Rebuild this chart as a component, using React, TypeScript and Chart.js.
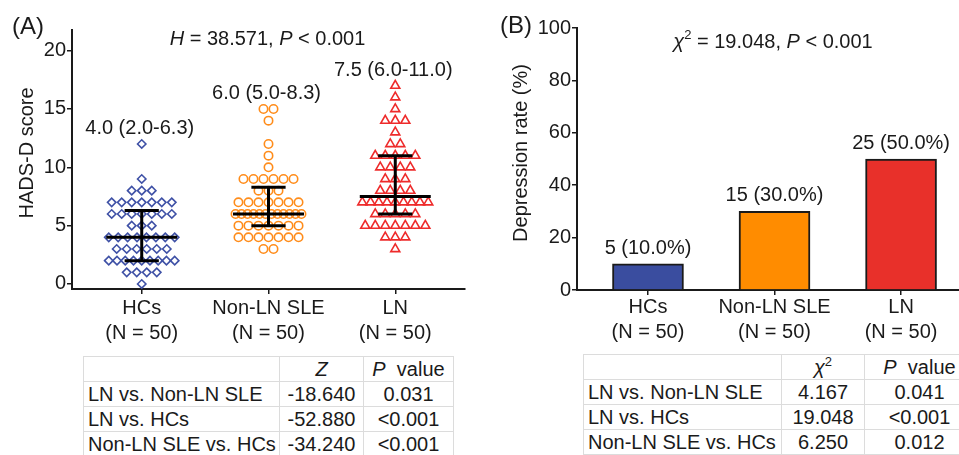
import React, { useEffect, useRef } from "react";
import { Chart, registerables } from "chart.js";

Chart.register(...registerables);

const FONT = "'Liberation Sans', Arial, Helvetica, sans-serif";
const INK = "#1a1a1a";

// ---------- data ----------
const groups = ["HCs", "Non-LN SLE", "LN"];
const groupN = ["(N = 50)", "(N = 50)", "(N = 50)"];

const hcScores = [
  0, 1, 1, 1, 1, 2, 2, 2, 2, 2, 2, 2, 2, 2, 3, 3, 3, 3, 3, 3, 4, 4, 4, 4, 4, 4, 4, 4,
  5, 5, 5, 6, 6, 6, 6, 6, 6, 6, 7, 7, 7, 7, 7, 7, 7, 8, 8, 8, 9, 12,
];
const nonLnScores = [
  3, 3, 4, 4, 4, 4, 4, 4, 4, 5, 5, 5, 5, 5, 5, 5, 6, 6, 6, 6, 6, 6, 6, 6, 6, 6, 6, 6,
  7, 7, 7, 7, 7, 7, 7, 8, 8, 8, 9, 9, 9, 9, 9, 9, 10, 11, 12, 14, 15, 15,
];
const lnScores = [
  3, 4, 4, 4, 5, 5, 5, 5, 5, 5, 5, 6, 6, 6, 6, 6, 7, 7, 7, 7, 7, 7, 7, 7, 7, 8, 8, 8,
  8, 9, 9, 9, 10, 10, 10, 10, 11, 11, 11, 11, 11, 12, 12, 13, 14, 14, 14, 15, 16, 17,
];
const medians = [4.0, 6.0, 7.5];
const q1s = [2.0, 5.0, 6.0];
const q3s = [6.3, 8.3, 11.0];
const yTicksA = [0, 5, 10, 15, 20];

const depCounts = [5, 15, 25];
const depRates = [10, 30, 50];
const yTicksB = [0, 20, 40, 60, 80, 100];

const comparisons = ["LN vs. Non-LN SLE", "LN vs. HCs", "Non-LN SLE vs. HCs"];
const zValues = ["-18.640", "-52.880", "-34.240"];
const pValuesA = ["0.031", "<0.001", "<0.001"];
const chiValues = ["4.167", "19.048", "6.250"];
const pValuesB = ["0.041", "<0.001", "0.012"];

// ---------- styles ----------
const pointColors = ["#3f51a6", "#ff8c1a", "#ee2b2b"];
const pointStyles = ["rectRot", "circle", "triangle"];
const pointRadii = [4.2, 4.2, 5.2];
const barColors = ["#3a4d9f", "#ff8c00", "#e8302a"];

const STEP = 0.079;
const MAXSPAN = 0.52;
const MED_HALF = 0.28;
const CAP_HALF = 0.135;

const scoresByGroup = [hcScores, nonLnScores, lnScores];

function swarm(scores: number[], center: number) {
  const rows = new Map<number, number>();
  scores.forEach((v) => rows.set(v, (rows.get(v) || 0) + 1));
  const out: { x: number; y: number }[] = [];
  rows.forEach((k, v) => {
    const span = Math.min((k - 1) * STEP, MAXSPAN);
    const step = k > 1 ? span / (k - 1) : 0;
    for (let i = 0; i < k; i++) out.push({ x: center - span / 2 + i * step, y: v });
  });
  return out;
}

type Run = { t: string; i?: boolean; sup?: boolean };

function drawRuns(ctx: CanvasRenderingContext2D, runs: Run[], cx: number, y: number, size: number) {
  const fontFor = (r: Run) =>
    `${r.i ? "italic " : ""}${r.sup ? Math.round(size * 0.65) : size}px ${FONT}`;
  let total = 0;
  runs.forEach((r) => {
    ctx.font = fontFor(r);
    total += ctx.measureText(r.t).width;
  });
  let x = cx - total / 2;
  ctx.textAlign = "left";
  ctx.textBaseline = "alphabetic";
  runs.forEach((r) => {
    ctx.font = fontFor(r);
    ctx.fillText(r.t, x, r.sup ? y - size * 0.45 : y);
    x += ctx.measureText(r.t).width;
  });
}

const axisCommon = (fontSize: number) => ({
  ticks: {
    color: INK,
    padding: 1,
    autoSkip: false,
    maxRotation: 0,
    font: { family: FONT, size: fontSize, lineHeight: 1.25 },
  },
  grid: { drawOnChartArea: false, drawTicks: true, tickLength: 5, color: INK, lineWidth: 1.5, offset: false },
  border: { display: true, color: INK, width: 2 },
});

const panelAPlugin = {
  id: "panelA",
  afterDraw(chart: any) {
    const ctx = chart.ctx as CanvasRenderingContext2D;
    const xs = chart.scales.x;
    const ys = chart.scales.y;
    ctx.save();
    ctx.fillStyle = INK;
    ctx.font = `24px ${FONT}`;
    ctx.textAlign = "left";
    ctx.textBaseline = "alphabetic";
    ctx.fillText("(A)", 12, 34);
    drawRuns(ctx, [{ t: "H", i: true }, { t: " = 38.571, " }, { t: "P", i: true }, { t: " < 0.001" }], 267.5, 45, 20);
    ctx.font = `20px ${FONT}`;
    ctx.textAlign = "center";
    groups.forEach((_, i) => {
      const maxV = Math.max(...scoresByGroup[i]);
      const txt = `${medians[i].toFixed(1)} (${q1s[i].toFixed(1)}-${q3s[i].toFixed(1)})`;
      ctx.fillText(txt, xs.getPixelForValue(i) - 2, ys.getPixelForValue(maxV + 0.85));
    });
    ctx.translate(27.5, 153);
    ctx.rotate(-Math.PI / 2);
    ctx.textBaseline = "middle";
    ctx.fillText("HADS-D score", 0, 0);
    ctx.restore();
  },
};

const panelBPlugin = {
  id: "panelB",
  afterDraw(chart: any) {
    const ctx = chart.ctx as CanvasRenderingContext2D;
    const xs = chart.scales.x;
    const ys = chart.scales.y;
    ctx.save();
    ctx.fillStyle = INK;
    ctx.font = `24px ${FONT}`;
    ctx.textAlign = "left";
    ctx.textBaseline = "alphabetic";
    ctx.fillText("(B)", 20, 33);
    drawRuns(
      ctx,
      [{ t: "χ", i: true }, { t: "2", sup: true }, { t: " = 19.048, " }, { t: "P", i: true }, { t: " < 0.001" }],
      293,
      48,
      20
    );
    ctx.font = `20px ${FONT}`;
    ctx.textAlign = "center";
    depRates.forEach((r, i) => {
      ctx.fillText(`${depCounts[i]} (${r.toFixed(1)}%)`, xs.getPixelForValue(i), ys.getPixelForValue(r) - 10);
    });
    ctx.translate(41.5, 153);
    ctx.rotate(-Math.PI / 2);
    ctx.textBaseline = "middle";
    ctx.fillText("Depression rate (%)", 0, 0);
    ctx.restore();
  },
};

function PanelA() {
  const ref = useRef<HTMLCanvasElement>(null);
  useEffect(() => {
    const errDatasets: any[] = [];
    groups.forEach((_, i) => {
      const segs = [
        [{ x: i - MED_HALF, y: medians[i] }, { x: i + MED_HALF, y: medians[i] }],
        [{ x: i - CAP_HALF, y: q1s[i] }, { x: i + CAP_HALF, y: q1s[i] }],
        [{ x: i - CAP_HALF, y: q3s[i] }, { x: i + CAP_HALF, y: q3s[i] }],
        [{ x: i, y: q1s[i] }, { x: i, y: q3s[i] }],
      ];
      segs.forEach((s) =>
        errDatasets.push({
          type: "line",
          data: s,
          showLine: true,
          borderColor: "#000",
          borderWidth: 3,
          pointRadius: 0,
          borderCapStyle: "butt",
          order: 0,
        })
      );
    });
    const ptDatasets = groups.map((g, i) => ({
      type: "scatter",
      label: g,
      data: swarm(scoresByGroup[i], i),
      pointStyle: pointStyles[i],
      pointRadius: pointRadii[i],
      borderColor: pointColors[i],
      backgroundColor: "rgba(255,255,255,0)",
      borderWidth: 1.6,
      order: 1,
    }));
    const c = axisCommon(20);
    const chart = new Chart(ref.current!, {
      type: "scatter",
      data: { datasets: [...errDatasets, ...ptDatasets] as any },
      options: {
        responsive: false,
        animation: false,
        layout: { padding: { top: 30, right: 15, left: 0, bottom: 0 } },
        plugins: { legend: { display: false }, tooltip: { enabled: false } },
        scales: {
          x: {
            type: "linear",
            min: -0.55,
            max: 2.55,
            afterBuildTicks: (s: any) => {
              s.ticks = groups.map((_, i) => ({ value: i }));
            },
            afterFit: (s: any) => {
              s.height = 61;
            },
            ticks: { ...c.ticks, padding: 2, callback: (v: any) => [groups[v], groupN[v]] },
            grid: c.grid,
            border: c.border,
          },
          y: {
            type: "linear",
            min: -0.43,
            max: 21.77,
            afterBuildTicks: (s: any) => {
              s.ticks = yTicksA.map((v) => ({ value: v }));
            },
            afterFit: (s: any) => {
              s.width = 72;
            },
            ticks: { ...c.ticks, callback: (v: any) => String(v) },
            grid: c.grid,
            border: c.border,
          },
        },
      } as any,
      plugins: [panelAPlugin],
    });
    return () => chart.destroy();
  }, []);
  return (
    <canvas
      ref={ref}
      width={480}
      height={350}
      style={{ position: "absolute", left: 0, top: 0, width: 480, height: 350 }}
    />
  );
}

function PanelB() {
  const ref = useRef<HTMLCanvasElement>(null);
  useEffect(() => {
    const c = axisCommon(20);
    const chart = new Chart(ref.current!, {
      type: "bar",
      data: {
        datasets: [
          {
            data: depRates.map((r, i) => ({ x: i, y: r })),
            backgroundColor: barColors,
            borderColor: INK,
            borderWidth: 2,
            barThickness: 71,
          },
        ],
      } as any,
      options: {
        responsive: false,
        animation: false,
        layout: { padding: { top: 28, right: 0, left: 0, bottom: 0 } },
        plugins: { legend: { display: false }, tooltip: { enabled: false } },
        scales: {
          x: {
            type: "linear",
            offset: false,
            min: -0.561,
            max: 2.458,
            afterBuildTicks: (s: any) => {
              s.ticks = groups.map((_, i) => ({ value: i }));
            },
            afterFit: (s: any) => {
              s.height = 60;
            },
            ticks: { ...c.ticks, padding: 0, callback: (v: any) => [groups[v], groupN[v]] },
            grid: c.grid,
            border: c.border,
          },
          y: {
            type: "linear",
            min: 0,
            max: 100,
            afterBuildTicks: (s: any) => {
              s.ticks = yTicksB.map((v) => ({ value: v }));
            },
            afterFit: (s: any) => {
              s.width = 97;
            },
            ticks: { ...c.ticks, callback: (v: any) => String(v) },
            grid: c.grid,
            border: c.border,
          },
        },
      } as any,
      plugins: [panelBPlugin],
    });
    return () => chart.destroy();
  }, []);
  return (
    <canvas
      ref={ref}
      width={479}
      height={350}
      style={{ position: "absolute", left: 480, top: 0, width: 479, height: 350 }}
    />
  );
}

const cellBase: React.CSSProperties = {
  border: "1px solid #dcdcdc",
  height: 24,
  lineHeight: "24px",
  padding: 0,
  whiteSpace: "nowrap",
  overflow: "hidden",
};

function StatTable(props: {
  left: number;
  top: number;
  widths: number[];
  header: React.ReactNode;
  col2: string[];
  col3: string[];
}) {
  const { left, top, widths, header, col2, col3 } = props;
  return (
    <table
      style={{
        position: "absolute",
        left,
        top,
        borderCollapse: "collapse",
        tableLayout: "fixed",
        width: widths.reduce((a, b) => a + b, 0),
        fontFamily: FONT,
        fontSize: 20,
        color: INK,
      }}
    >
      <colgroup>
        {widths.map((w, i) => (
          <col key={i} style={{ width: w }} />
        ))}
      </colgroup>
      <tbody>
        <tr>
          <td style={cellBase}></td>
          <td style={{ ...cellBase, textAlign: "center" }}>{header}</td>
          <td style={{ ...cellBase, textAlign: "center" }}>
            <i>P</i>
            {"\u00a0 value"}
          </td>
        </tr>
        {comparisons.map((cmp, i) => (
          <tr key={i}>
            <td style={{ ...cellBase, paddingLeft: 4 }}>{cmp}</td>
            <td style={{ ...cellBase, textAlign: "center" }}>{col2[i]}</td>
            <td style={{ ...cellBase, textAlign: "center" }}>{col3[i]}</td>
          </tr>
        ))}
      </tbody>
    </table>
  );
}

export default function App() {
  return (
    <div
      style={{
        position: "absolute",
        left: 0,
        top: 0,
        width: 959,
        height: 455,
        overflow: "hidden",
        background: "#fff",
      }}
    >
      <PanelA />
      <PanelB />
      <StatTable
        left={83}
        top={356}
        widths={[196, 84, 90]}
        header={<i>Z</i>}
        col2={zValues}
        col3={pValuesA}
      />
      <StatTable
        left={583}
        top={354}
        widths={[198, 83, 110]}
        header={
          <span>
            <i>χ</i>
            <sup style={{ fontSize: 13, verticalAlign: "8px", lineHeight: 0 }}>2</sup>
          </span>
        }
        col2={chiValues}
        col3={pValuesB}
      />
    </div>
  );
}
